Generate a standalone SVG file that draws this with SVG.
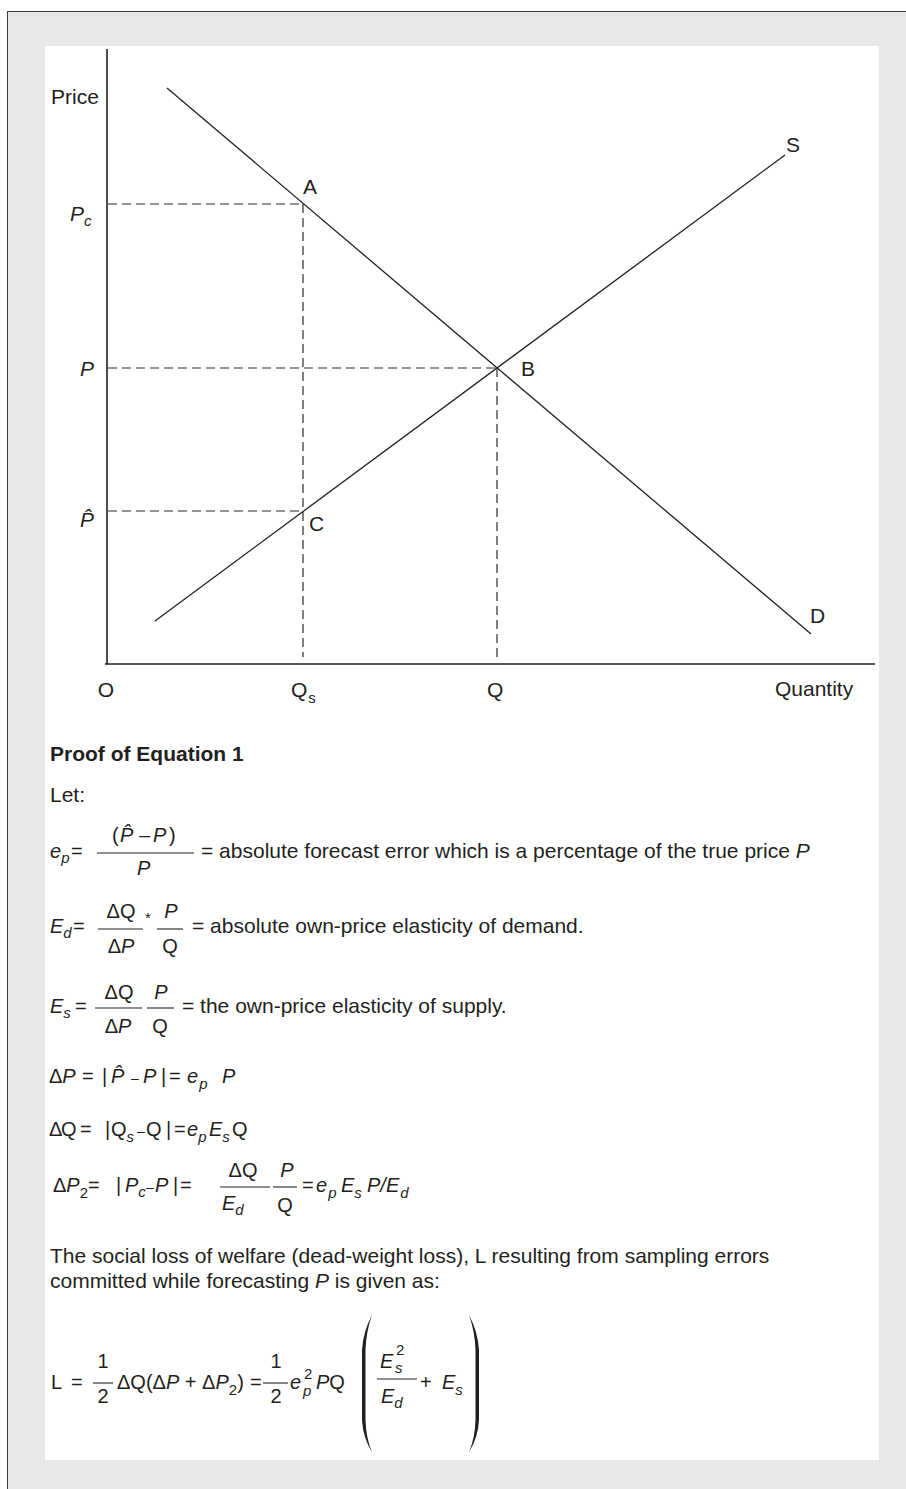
<svg xmlns="http://www.w3.org/2000/svg" width="906" height="1489" viewBox="0 0 906 1489">
<style>
.t{font-family:"Liberation Sans",Arial,Helvetica,sans-serif;font-size:21px;fill:#231f20}
.m{font-family:"Liberation Sans",Arial,Helvetica,sans-serif;font-size:20px;fill:#231f20}
.i{font-style:italic}
.n{font-style:normal}
.s{font-size:15px}
.b{font-weight:bold}
.mid{text-anchor:middle}
.ln{stroke:#231f20;stroke-width:1.3;fill:none}
.ax{stroke:#231f20;stroke-width:1.6;fill:none}
.dash{stroke:#2d2a2b;stroke-width:1.2;stroke-dasharray:9 5;fill:none}
.bar{stroke:#231f20;stroke-width:1.1;fill:none}
</style>
<rect x="7.5" y="11.5" width="910" height="1490" fill="#e6e7e8" stroke="#3a3a3a" stroke-width="1"/>
<rect x="45" y="46" width="834" height="1414" fill="#ffffff"/>

<g id="connectors">
<line class="ax" x1="107" y1="49" x2="107" y2="664"/>
<line class="ax" x1="105" y1="664" x2="875" y2="664"/>
<line class="ln" x1="167" y1="88" x2="811" y2="634"/>
<line class="ln" x1="155" y1="621" x2="785" y2="155"/>
<line class="dash" x1="108" y1="204" x2="303" y2="204"/>
<line class="dash" x1="303" y1="204" x2="303" y2="657"/>
<line class="dash" x1="108" y1="368" x2="497" y2="368"/>
<line class="dash" x1="497" y1="368" x2="497" y2="657"/>
<line class="dash" x1="108" y1="511" x2="303" y2="511"/>
</g>

<g id="graph-labels">
<text class="t" x="51" y="104">Price</text>
<text class="t i" x="70" y="221">P<tspan class="s" dx="0" dy="5">c</tspan></text>
<text class="t" x="303" y="194">A</text>
<text class="t i" x="80" y="376">P</text>
<text class="t" x="521" y="376">B</text>
<text class="t i" x="80" y="527">P̂</text>
<text class="t" x="309" y="531">C</text>
<text class="t" x="786" y="152">S</text>
<text class="t" x="810" y="623">D</text>
<text class="t mid" x="106" y="697">O</text>
<text class="t" x="291" y="697">Q<tspan class="s" dx="1" dy="6">s</tspan></text>
<text class="t" x="487" y="697">Q</text>
<text class="t" x="775" y="696">Quantity</text>
</g>

<g id="heading">
<text class="t b" x="50" y="761">Proof of Equation 1</text>
<text class="t" x="50" y="802">Let:</text>
</g>

<g id="eq-ep">
<text class="m i" x="50" y="858">e<tspan class="s" dx="0" dy="5">p</tspan></text>
<text class="m" x="71" y="858">=</text>
<line class="bar" x1="97" y1="853" x2="194" y2="853"/>
<text class="m" x="112" y="842">(</text>
<text class="m i" x="120" y="842">P̂</text>
<text class="m" x="139" y="842">–</text>
<text class="m i" x="153" y="842">P</text>
<text class="m" x="169" y="842">)</text>
<text class="m i" x="137" y="875">P</text>
<text class="t" x="201" y="858">= absolute forecast error which is a percentage of the true price <tspan class="i">P</tspan></text>
</g>

<g id="eq-ed">
<text class="m i" x="50" y="933">E<tspan class="s" dx="0" dy="5">d</tspan></text>
<text class="m" x="73" y="933">=</text>
<line class="bar" x1="98" y1="929" x2="143" y2="929"/>
<text class="m mid" x="121" y="918">ΔQ</text>
<text class="m mid" x="121" y="953">Δ<tspan class="i">P</tspan></text>
<text class="m" x="145" y="923" style="font-size:15px">*</text>
<line class="bar" x1="157" y1="929" x2="183" y2="929"/>
<text class="m i mid" x="171" y="918">P</text>
<text class="m mid" x="170" y="953">Q</text>
<text class="t" x="192" y="933">= absolute own-price elasticity of demand.</text>
</g>

<g id="eq-es">
<text class="m i" x="50" y="1013">E<tspan class="s" dx="0" dy="5">s</tspan></text>
<text class="m" x="75" y="1013">=</text>
<line class="bar" x1="95" y1="1008" x2="142" y2="1008"/>
<text class="m mid" x="119" y="999">ΔQ</text>
<text class="m mid" x="118" y="1033">Δ<tspan class="i">P</tspan></text>
<line class="bar" x1="147" y1="1008" x2="174" y2="1008"/>
<text class="m i mid" x="161" y="999">P</text>
<text class="m mid" x="160" y="1033">Q</text>
<text class="t" x="182" y="1013">= the own-price elasticity of supply.</text>
</g>

<g id="eq-dp">
<text class="m" x="49" y="1083">Δ<tspan class="i">P</tspan></text>
<text class="m" x="82" y="1083">=</text>
<text class="m" x="102" y="1083">|</text>
<text class="m i" x="111" y="1083">P̂</text>
<text class="m" x="131" y="1083" style="font-size:14px">–</text>
<text class="m i" x="143" y="1083">P</text>
<text class="m" x="161" y="1083">|</text>
<text class="m" x="169" y="1083">=</text>
<text class="m i" x="187" y="1083">e<tspan class="s" dx="1" dy="6">p</tspan></text>
<text class="m i" x="222" y="1083">P</text>
</g>

<g id="eq-dq">
<text class="m" x="49" y="1136">Δ</text><text class="m" x="61" y="1136">Q</text>
<text class="m" x="80" y="1136">=</text>
<text class="m" x="105" y="1136">|</text>
<text class="m" x="111" y="1136">Q<tspan class="i s" dx="0" dy="6">s</tspan></text>
<text class="m" x="137" y="1136" style="font-size:14px">–</text>
<text class="m" x="146" y="1136">Q</text>
<text class="m" x="166" y="1136">|</text>
<text class="m" x="174" y="1136">=</text>
<text class="m i" x="187" y="1136">e<tspan class="s" dx="0" dy="6">p</tspan></text>
<text class="m i" x="209" y="1136">E<tspan class="s" dx="0" dy="6">s</tspan></text>
<text class="m" x="232" y="1136">Q</text>
</g>

<g id="eq-dp2">
<text class="m" x="53" y="1192">Δ<tspan class="i">P</tspan><tspan class="s" dy="6">2</tspan></text>
<text class="m" x="88" y="1192">=</text>
<text class="m" x="116" y="1192">|</text>
<text class="m i" x="125" y="1192">P<tspan class="s" dx="0" dy="5">c</tspan></text>
<text class="m" x="146" y="1192" style="font-size:14px">–</text>
<text class="m i" x="155" y="1192">P</text>
<text class="m" x="173" y="1192">|</text>
<text class="m" x="180" y="1192">=</text>
<line class="bar" x1="220" y1="1187" x2="270" y2="1187"/>
<text class="m mid" x="243" y="1177">ΔQ</text>
<text class="m i" x="222" y="1210">E<tspan class="s" dx="0" dy="5">d</tspan></text>
<line class="bar" x1="273" y1="1187" x2="297" y2="1187"/>
<text class="m i mid" x="287" y="1177">P</text>
<text class="m mid" x="285" y="1212">Q</text>
<text class="m" x="302" y="1192">=</text>
<text class="m i" x="316" y="1192">e<tspan class="s" dx="1" dy="6">p</tspan></text>
<text class="m i" x="341" y="1192">E<tspan class="s" dx="0" dy="6">s</tspan></text>
<text class="m i" x="367" y="1192">P/E<tspan class="s" dx="1" dy="6">d</tspan></text>
</g>

<g id="text-loss">
<text class="t" x="50" y="1263">The social loss of welfare (dead-weight loss), L resulting from sampling errors</text>
<text class="t" x="50" y="1288">committed while forecasting <tspan class="i">P</tspan> is given as:</text>
</g>

<g id="eq-L">
<text class="m" x="51" y="1389">L</text>
<text class="m" x="71" y="1389">=</text>
<line class="bar" x1="93" y1="1383" x2="113" y2="1383"/>
<text class="m mid" x="103" y="1368">1</text>
<text class="m mid" x="103" y="1403">2</text>
<text class="m" x="117" y="1389">ΔQ(Δ<tspan class="i">P</tspan> + Δ<tspan class="i">P</tspan><tspan class="s" dy="6">2</tspan><tspan dy="-6">)</tspan></text>
<text class="m" x="250" y="1389">=</text>
<line class="bar" x1="263" y1="1383" x2="288" y2="1383"/>
<text class="m mid" x="276" y="1368">1</text>
<text class="m mid" x="276" y="1403">2</text>
<text class="m i" x="290" y="1389">e</text><text class="m s" x="304" y="1379">2</text><text class="m i s" x="303" y="1396">p</text>
<text class="m i" x="316" y="1389">P<tspan class="n">Q</tspan></text>
<path d="M372,1315 Q363,1332 362,1350 L362,1420 Q363,1438 372,1452 Q366,1438 365.5,1420 L365.5,1350 Q366,1332 372,1315 Z" fill="#231f20"/>
<path d="M469,1315 Q478,1332 479,1350 L479,1420 Q478,1438 469,1452 Q475,1438 475.5,1420 L475.5,1350 Q475,1332 469,1315 Z" fill="#231f20"/>
<line class="bar" x1="377" y1="1379" x2="417" y2="1379"/>
<text class="m i" x="380" y="1368">E</text><text class="m s" x="396" y="1355">2</text><text class="m i s" x="395" y="1373">s</text>
<text class="m i" x="381" y="1403">E<tspan class="s" dx="0" dy="5">d</tspan></text>
<text class="m" x="420" y="1389">+</text>
<text class="m i" x="442" y="1389">E<tspan class="s" dx="0" dy="6">s</tspan></text>
</g>
</svg>
